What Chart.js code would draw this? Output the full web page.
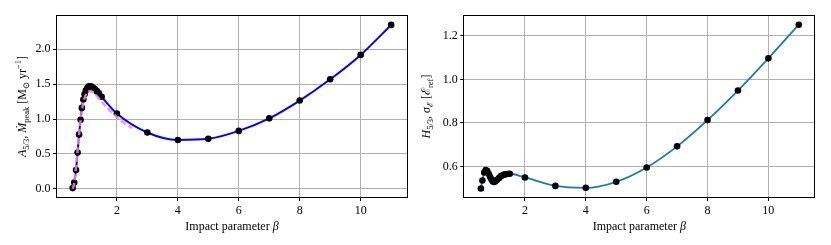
<!DOCTYPE html>
<html>
<head>
<meta charset="utf-8">
<script src="https://cdn.jsdelivr.net/npm/chart.js@4.4.1/dist/chart.umd.min.js"></script>
<style>
html, body { margin: 0; padding: 0; background: #fff; }
#wrap { position: relative; width: 831px; height: 245px; }
canvas { position: absolute; top: 0; }
</style>
</head>
<body>
<div id="wrap">
    <canvas id="cvA" width="415" height="245" style="left:0"></canvas>
    <canvas id="cvH" width="416" height="245" style="left:415px"></canvas>
</div>
<script>
// impact parameter of each run
var beta = [0.55, 0.6, 0.66, 0.71, 0.76, 0.81, 0.85, 0.9, 0.94, 0.98, 1.03, 1.08, 1.15, 1.21, 1.28, 1.34, 1.41, 1.5,
    2, 3, 4, 5, 6, 7, 8, 9, 10, 11];
// A_5/3 (peak fallback rate)
var peakRate = [0.01, 0.09, 0.27, 0.52, 0.78, 0.99, 1.16, 1.28, 1.355, 1.41, 1.445, 1.47, 1.47, 1.45, 1.43, 1.40, 1.37, 1.32,
    1.08, 0.807, 0.70, 0.716, 0.83, 1.01, 1.265, 1.57, 1.92, 2.35];
// H_5/3 (energy spread)
var spread = [0.498, 0.535, 0.572, 0.583, 0.578, 0.565, 0.552, 0.54, 0.532, 0.528, 0.531, 0.538, 0.547, 0.555, 0.56, 0.563, 0.565, 0.566,
    0.549, 0.510, 0.501, 0.529, 0.595, 0.692, 0.813, 0.949, 1.097, 1.252];
// fit curve (dashed violet)
var fitBeta = [0.55, 0.6, 0.7, 0.8, 0.9, 1.0, 1.1, 1.2, 1.3, 1.4, 1.6, 1.8, 2.0, 2.25, 2.5];
var fitRate = [0.0, 0.08, 0.5, 0.95, 1.24, 1.36, 1.40, 1.39, 1.35, 1.30, 1.20, 1.11, 1.03, 0.94, 0.87];

var xTicks = [2, 4, 6, 8, 10];
var yTicksA = [0, 0.5, 1, 1.5, 2];
var yTicksH = [0.6, 0.8, 1.0, 1.2];

var SERIF = "'Liberation Serif', 'DejaVu Serif', serif";

function pts(xs, ys) {
    return xs.map(function (x, i) { return { x: x, y: ys[i] }; });
}

// cadre noir autour de la zone de trace
var framePlugin = {
    id: 'frame',
    afterDraw: function (chart) {
        var a = chart.chartArea, c = chart.ctx;
        c.save();
        c.strokeStyle = '#000';
        c.lineWidth = 1;
        c.strokeRect(Math.round(a.left) - 0.5, Math.round(a.top) - 0.5, Math.round(a.right - a.left) + 1, Math.round(a.bottom - a.top) + 1);
        c.restore();
    }
};

function partFont(style) {
    var small = (style == 'sub' || style == 'sup');
    var it = (style == 'i') ? 'italic ' : '';
    return it + (small ? '8.5px ' : '12px ') + SERIF;
}

function drawRich(ctx, parts, x, y, rotate) {
    ctx.save();
    ctx.translate(x, y);
    if (rotate) ctx.rotate(-Math.PI / 2);
    ctx.fillStyle = '#000';
    ctx.textBaseline = 'alphabetic';
    ctx.textAlign = 'left';
    var widths = [], total = 0;
    parts.forEach(function (p) {
        ctx.font = partFont(p[1]);
        var w = ctx.measureText(p[0]).width;
        widths.push(w);
        total += w;
    });
    var cx = -total / 2;
    parts.forEach(function (p, i) {
        ctx.font = partFont(p[1]);
        var dy = 4;
        if (p[1] == 'sub') dy = 7;
        if (p[1] == 'sup') dy = -1;
        ctx.fillText(p[0], cx, dy);
        cx += widths[i];
    });
    ctx.restore();
}

var titlePlugin = {
    id: 'richTitles',
    afterDraw: function (chart) {
        var o = chart.options.plugins.richTitles;
        var a = chart.chartArea;
        drawRich(chart.ctx, o.y, o.yX, (a.top + a.bottom) / 2, true);
        drawRich(chart.ctx, o.x, (a.left + a.right) / 2, 226, false);
    }
};

function makeScales(xMin, xMax, yMin, yMax, yTicks, yWidth) {
    var grid = { color: '#b0b0b0', lineWidth: 1, tickLength: 4, tickColor: '#000' };
    var tickFont = { family: SERIF, size: 12 };
    return {
        x: {
            type: 'linear', min: xMin, max: xMax,
            afterBuildTicks: function (s) { s.ticks = xTicks.map(function (v) { return { value: v }; }); },
            afterFit: function (s) { s.height = 48; },
            ticks: { font: tickFont, color: '#000', padding: 3, maxRotation: 0, autoSkip: false,
                callback: function (v) { return String(v); } },
            grid: grid,
            border: { display: false }
        },
        y: {
            type: 'linear', min: yMin, max: yMax,
            afterBuildTicks: function (s) { s.ticks = yTicks.map(function (v) { return { value: v }; }); },
            afterFit: function (s) { s.width = yWidth; },
            ticks: { font: tickFont, color: '#000', padding: 2.5, autoSkip: false,
                callback: function (v) { return v.toFixed(1); } },
            grid: grid,
            border: { display: false }
        }
    };
}

var xTitle = [['Impact parameter ', ''], ['β', 'i']];

new Chart(document.getElementById('cvA'), {
    type: 'scatter',
    data: {
        datasets: [{
            data: pts(fitBeta, fitRate),
            showLine: true,
            borderColor: 'rgba(238,130,238,0.85)',
            borderWidth: 2.5,
            borderDash: [6, 3],
            pointRadius: 0,
            cubicInterpolationMode: 'monotone',
            order: 0
        }, {
            data: pts(beta, peakRate),
            showLine: false,
            pointRadius: 3.3,
            pointBackgroundColor: '#000',
            pointBorderWidth: 0,
            order: 1
        }, {
            data: pts(beta, peakRate),
            showLine: true,
            borderColor: '#0000ff',
            borderWidth: 2,
            pointRadius: 0,
            cubicInterpolationMode: 'monotone',
            order: 2
        }]
    },
    options: {
        responsive: false,
        animation: false,
        layout: { padding: { left: 0, right: 8, top: 16, bottom: 0 } },
        plugins: {
            legend: { display: false },
            tooltip: { enabled: false },
            richTitles: {
                yX: 21.7,
                y: [['A', 'i'], ['5/3', 'sub'], [', ', ''], ['Ṁ', 'i'], ['peak', 'sub'], [' [M', ''], ['⊙', 'sub'],
                    [' yr', ''], ['−1', 'sup'], [']', '']],
                x: xTitle
            }
        },
        scales: makeScales(0.035, 11.52, -0.118, 2.478, yTicksA, 57)
    },
    plugins: [framePlugin, titlePlugin]
});

new Chart(document.getElementById('cvH'), {
    type: 'scatter',
    data: {
        datasets: [{
            data: pts(beta, spread),
            showLine: false,
            pointRadius: 3.3,
            pointBackgroundColor: '#000',
            pointBorderWidth: 0,
            order: 1
        }, {
            data: pts(beta, spread),
            showLine: true,
            borderColor: '#1f77b4',
            borderWidth: 1.8,
            pointRadius: 0,
            cubicInterpolationMode: 'monotone',
            order: 2
        }]
    },
    options: {
        responsive: false,
        animation: false,
        layout: { padding: { left: 0, right: 16.7, top: 16, bottom: 0 } },
        plugins: {
            legend: { display: false },
            tooltip: { enabled: false },
            richTitles: {
                yX: 10.5,
                y: [['H', 'i'], ['5/3', 'sub'], [', ', ''], ['σ', 'i'], ['ℰ', 'sub'], [' [', ''], ['ℰ', ''], ['ref', 'sub'], [']', '']],
                x: xTitle
            }
        },
        scales: makeScales(0.005, 11.51, 0.459, 1.292, yTicksH, 49.3)
    },
    plugins: [framePlugin, titlePlugin]
});
</script>
</body>
</html>
